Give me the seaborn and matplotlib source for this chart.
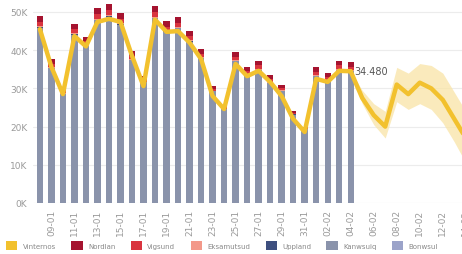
import numpy as np
import pandas as pd
import seaborn as sns
import matplotlib.pyplot as plt
from matplotlib.patches import Patch

# daily totals (thousands), 08-01 .. 04-02
dates = ["08-01", "09-01", "10-01", "11-01", "12-01", "13-01", "14-01", "15-01",
         "16-01", "17-01", "18-01", "19-01", "20-01", "21-01", "22-01", "23-01",
         "24-01", "25-01", "26-01", "27-01", "28-01", "29-01", "30-01", "31-01",
         "01-02", "02-02", "03-02", "04-02"]
totals = [49.0, 37.7, 29.8, 46.9, 43.5, 51.0, 52.0, 49.7, 39.8, 33.2, 51.6, 47.6,
          48.7, 45.0, 40.3, 30.6, 25.4, 39.5, 35.6, 37.2, 33.5, 30.9, 24.0, 20.0,
          35.6, 34.0, 37.2, 36.9]
nordlan = [1.6, 1.2, 0.6, 1.4, 1.2, 1.6, 1.6, 1.5, 1.2, 0.8, 1.6, 1.4, 1.5, 1.4,
           1.2, 0.7, 0.4, 1.2, 1.0, 1.2, 1.0, 0.8, 0.4, 0.3, 1.2, 1.0, 1.2, 1.2]
vigsund = [1.1, 0.9, 0.5, 1.0, 0.9, 1.2, 1.2, 1.1, 0.9, 0.6, 1.2, 1.0, 1.1, 1.0,
           0.9, 0.5, 0.3, 0.9, 0.8, 0.9, 0.8, 0.6, 0.3, 0.2, 0.9, 0.8, 0.9, 0.9]
eksamutsud = [0.3, 0.2, 0.1, 0.3, 0.2, 0.3, 0.3, 0.3, 0.2, 0.1, 0.3, 0.3, 0.3, 0.3,
              0.2, 0.1, 0.1, 0.2, 0.2, 0.2, 0.2, 0.1, 0.1, 0.1, 0.2, 0.2, 0.2, 0.2]
uppland = [0.1] * 28

# smoothed line, same days
average = [45.5, 35.6, 28.5, 43.7, 41.0, 47.4, 48.2, 47.4, 38.5, 30.6, 48.0, 44.8,
           45.0, 42.0, 37.7, 28.0, 24.6, 36.4, 33.2, 34.6, 31.7, 28.0, 22.0, 18.6,
           32.5, 31.7, 34.6, 34.48]

# forecast 04-02 .. 14-02
fc_day = [27, 28, 29, 30, 31, 32, 33, 34, 35, 36, 37]
fc_mid = [34.48, 27.5, 23.0, 20.0, 31.0, 28.5, 31.5, 30.0, 27.0, 22.0, 17.0]
fc_low = [34.48, 26.0, 20.5, 17.0, 26.5, 24.5, 26.0, 24.5, 21.0, 16.0, 10.5]
fc_high = [34.48, 29.5, 26.0, 24.0, 35.5, 34.0, 36.5, 36.0, 34.0, 29.0, 24.0]

tick_labels = ["09-01", "11-01", "13-01", "15-01", "17-01", "19-01", "21-01", "23-01",
               "25-01", "27-01", "29-01", "31-01", "02-02", "04-02", "06-02", "08-02",
               "10-02", "12-02", "14-02"]

legend_names = ["Vinternos", "Nordlan", "Vigsund", "Eksamutsud", "Uppland",
                "Kanwsuiq", "Bonwsul"]
legend_colors = ["#f2c12e", "#a5132f", "#d9343f", "#f3998a", "#3e4f7f",
                 "#8a93ab", "#9ba3c9"]

sns.set_style("white")
plt.rcParams['font.family'] = ['DejaVu Sans']

fig = plt.figure(figsize=(4.62, 2.55), dpi=100)
ax = fig.add_axes([33 / 462, 51 / 255, 442 / 462, 204 / 255])

days = np.arange(len(dates))
df = pd.DataFrame({"day": days, "total": totals, "nordlan": nordlan,
                   "vigsund": vigsund, "eks": eksamutsud, "upp": uppland})
df["c_top"] = df["total"]
df["c_vig"] = df["total"] - df["nordlan"]
df["c_eks"] = df["c_vig"] - df["vigsund"]
df["c_upp"] = df["c_eks"] - df["eks"]
df["c_base"] = df["c_upp"] - df["upp"]

layers = [("c_top", "#a5132f"), ("c_vig", "#d9343f"), ("c_eks", "#f3998a"),
          ("c_upp", "#3e4f7f"), ("c_base", "#8a93ab")]
for col, colr in layers:
    sns.barplot(data=df, x="day", y=col, color=colr, native_scale=True,
                width=0.55, saturation=1, ax=ax, linewidth=0)

ax.fill_between(fc_day, fc_low, fc_high, color="#f9e4a6", alpha=0.75, linewidth=0)
sns.lineplot(x=days, y=average, color="#f2c12e", linewidth=3.2, ax=ax)
sns.lineplot(x=fc_day, y=fc_mid, color="#f2c12e", linewidth=3.2, ax=ax)

ax.text(27.3, 34.48, "34.480", fontsize=7, color="#555555", va="center", ha="left")

ax.set_xlim(-0.6, 37.8)
ax.set_ylim(0, 53.4)
ax.set_yticks([0, 10, 20, 30, 40, 50])
ax.set_yticklabels(["0K", "10K", "20K", "30K", "40K", "50K"])
ax.set_xticks(np.arange(1, 38, 2))
ax.set_xticklabels(tick_labels, rotation=90)
ax.tick_params(axis="both", labelsize=6.5, colors="#9a9a9a", length=0, pad=4)
ax.grid(axis="y", color="#ececec", linewidth=0.8)
ax.set_axisbelow(True)
ax.set_xlabel("")
ax.set_ylabel("")
for s in ax.spines.values():
    s.set_visible(False)

handles = [Patch(facecolor=c, edgecolor="none") for c in legend_colors]
fig.legend(handles, legend_names, loc="lower left", bbox_to_anchor=(0.0, -0.01),
           ncol=7, frameon=False, fontsize=5, handlelength=1.6, handleheight=1.6,
           columnspacing=2.2, handletextpad=0.8, labelcolor="#888888")

fig.savefig("out.png", dpi=100)
